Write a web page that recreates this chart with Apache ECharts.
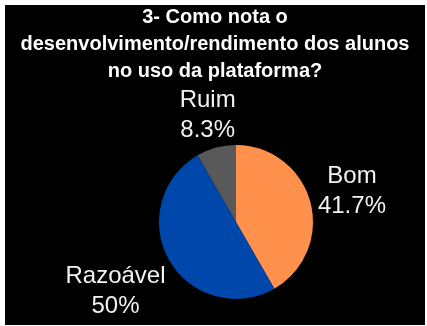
<!DOCTYPE html>
<html>
<head>
<meta charset="utf-8">
<script src="https://cdn.jsdelivr.net/npm/echarts@6/dist/echarts.min.js"></script>
<style>
html,body{margin:0;padding:0;background:#ffffff;width:427px;height:326px;overflow:hidden;}
#chart{position:absolute;left:5px;top:5px;width:420px;height:320px;}
</style>
</head>
<body>
<div id="chart"></div>
<script>
const titleText = "3- Como nota o\ndesenvolvimento/rendimento dos alunos\nno uso da plataforma?";
const categories = ["Bom", "Razoável", "Ruim"];
const percentLabels = ["41.7%", "50%", "8.3%"];
const values = [41.7, 50, 8.3];
const colors = ["#FF914D", "#0047AB", "#595959"];
const labelDistance = [120, 139, 110];

const cx = 231, cy = 217, radius = 77;
const total = values.reduce((a, b) => a + b, 0);
const midAngles = [];
let acc = 0;
values.forEach(v => { midAngles.push((acc + v / 2) / total * 2 * Math.PI); acc += v; });

const chart = echarts.init(document.getElementById('chart'), null, {renderer: 'canvas'});
chart.setOption({
  backgroundColor: '#000000',
  animation: false,
  title: {
    text: titleText,
    left: 'center',
    top: -1,
    padding: 0,
    textStyle: {
      color: '#ffffff',
      fontFamily: 'Liberation Sans, Arial, sans-serif',
      fontSize: 20,
      fontWeight: 'bold',
      lineHeight: 27
    }
  },
  series: [{
    type: 'pie',
    center: [cx, cy],
    radius: [0, radius],
    startAngle: 90,
    clockwise: true,
    silent: true,
    data: categories.map((c, i) => ({
      name: c,
      value: values[i],
      itemStyle: {color: colors[i]}
    })),
    itemStyle: {borderWidth: 0},
    label: {
      show: true,
      position: 'outside',
      formatter: p => p.name + '\n' + percentLabels[p.dataIndex],
      color: '#f2f2f2',
      fontFamily: 'Liberation Sans, Arial, sans-serif',
      fontSize: 24,
      lineHeight: 30,
      align: 'center',
      overflow: 'none',
      width: 200
    },
    labelLine: {show: false},
    labelLayout: function (params) {
      const i = params.dataIndex;
      const a = midAngles[i];
      const d = labelDistance[i];
      return {
        x: cx + d * Math.sin(a),
        y: cy - d * Math.cos(a),
        align: 'center',
        verticalAlign: 'middle'
      };
    }
  }]
});
</script>
</body>
</html>
